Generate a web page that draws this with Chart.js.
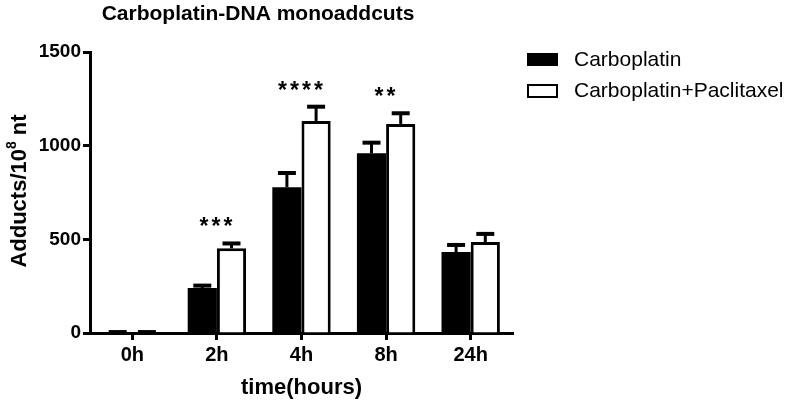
<!DOCTYPE html>
<html>
<head>
<meta charset="utf-8">
<script src="https://cdn.jsdelivr.net/npm/chart.js@4/dist/chart.umd.min.js"></script>
<style>
  html, body { margin: 0; padding: 0; background: #fff; }
</style>
</head>
<body>
<canvas id="adductChart" width="800" height="400"></canvas>
<script>
const categories = ["0h", "2h", "4h", "8h", "24h"];
const carboplatin = [3, 240, 778, 959, 432];
const carboplatinErr = [2, 13, 76, 57, 38];
const combination = [3, 452, 1132, 1116, 486];
const combinationErr = [2, 26, 76, 57, 43];
const significance = ["", "***", "****", "**", ""];
const yTicks = [0, 500, 1000, 1500];

const seriesNames = ["Carboplatin", "Carboplatin+Paclitaxel"];

// error bars, stars, titles and legend drawn on top of the bars
const extras = {
    id: "extras",
    afterDatasetsDraw(chart) {
        const ctx = chart.ctx;
        const y = chart.scales.y;
        const errs = [carboplatinErr, combinationErr];

        ctx.save();
        ctx.strokeStyle = "#000";
        ctx.lineCap = "butt";

        errs.forEach((errList, di) => {
            const meta = chart.getDatasetMeta(di);
            meta.data.forEach((bar, i) => {
                const v = chart.data.datasets[di].data[i];
                const top = y.getPixelForValue(v + errList[i]);
                ctx.lineWidth = 3;
                ctx.beginPath();
                ctx.moveTo(bar.x, bar.y);
                ctx.lineTo(bar.x, top);
                ctx.stroke();
                ctx.lineWidth = 4;
                ctx.beginPath();
                ctx.moveTo(bar.x - 9, top);
                ctx.lineTo(bar.x + 9, top);
                ctx.stroke();
            });
        });

        // significance stars
        ctx.fillStyle = "#000";
        ctx.font = "bold 23px Arial, 'Liberation Sans', sans-serif";
        ctx.textAlign = "center";
        ctx.textBaseline = "alphabetic";
        const x = chart.scales.x;
        significance.forEach((s, i) => {
            if (!s) return;
            const hi = Math.max(carboplatin[i] + carboplatinErr[i], combination[i] + combinationErr[i]);
            const cy = y.getPixelForValue(hi) - 22;
            const cx = x.getPixelForValue(i) - 1;
            for (let k = 0; k < s.length; k++) {
                const sx = cx + (k - (s.length - 1) / 2) * 12;
                ctx.fillText("*", sx, cy + 13);
            }
        });

        // chart title
        ctx.font = "bold 21px Arial, 'Liberation Sans', sans-serif";
        ctx.textBaseline = "alphabetic";
        ctx.fillText("Carboplatin-DNA monoaddcuts", 258, 20);

        // x axis title
        ctx.font = "bold 22px Arial, 'Liberation Sans', sans-serif";
        ctx.fillText("time(hours)", (chart.chartArea.left + chart.chartArea.right) / 2, 394);

        // y axis title with superscript
        ctx.save();
        ctx.translate(26, 191);
        ctx.rotate(-Math.PI / 2);
        const main = "Adducts/10";
        const tail = " nt";
        ctx.font = "bold 22px Arial, 'Liberation Sans', sans-serif";
        const wMain = ctx.measureText(main).width;
        const wTail = ctx.measureText(tail).width;
        ctx.font = "bold 14px Arial, 'Liberation Sans', sans-serif";
        const wSup = ctx.measureText("8").width;
        const total = wMain + wSup + wTail;
        let px = -total / 2;
        ctx.textAlign = "left";
        ctx.font = "bold 22px Arial, 'Liberation Sans', sans-serif";
        ctx.fillText(main, px, 0);
        px += wMain;
        ctx.font = "bold 14px Arial, 'Liberation Sans', sans-serif";
        ctx.fillText("8", px, -10);
        px += wSup;
        ctx.font = "bold 22px Arial, 'Liberation Sans', sans-serif";
        ctx.fillText(tail, px, 0);
        ctx.restore();

        // legend
        ctx.fillStyle = "#000";
        ctx.fillRect(527, 53, 31, 13);
        ctx.lineWidth = 2;
        ctx.strokeRect(528, 85, 29, 12);
        ctx.font = "21px Arial, 'Liberation Sans', sans-serif";
        ctx.textAlign = "left";
        ctx.textBaseline = "middle";
        ctx.fillText(seriesNames[0], 574, 60);
        ctx.fillText(seriesNames[1], 574, 91);

        ctx.restore();
    }
};

new Chart(document.getElementById("adductChart").getContext("2d"), {
    type: "bar",
    data: {
        labels: categories,
        datasets: [
            {
                label: seriesNames[0],
                data: carboplatin,
                backgroundColor: "#000",
                borderColor: "#000",
                borderWidth: 0,
                barPercentage: 1,
                categoryPercentage: 0.69
            },
            {
                label: seriesNames[1],
                data: combination,
                backgroundColor: "#fff",
                borderColor: "#000",
                borderWidth: 3,
                barPercentage: 1,
                categoryPercentage: 0.69
            }
        ]
    },
    options: {
        responsive: false,
        animation: false,
        layout: {
            padding: { left: 0, right: 287, top: 52, bottom: 0 }
        },
        plugins: {
            legend: { display: false },
            tooltip: { enabled: false }
        },
        scales: {
            x: {
                afterFit(scale) { scale.height = 67; },
                grid: {
                    offset: false,
                    drawOnChartArea: false,
                    tickLength: 7,
                    tickWidth: 3,
                    tickColor: "#000"
                },
                border: { color: "#000", width: 3 },
                ticks: {
                    color: "#000",
                    padding: 3,
                    maxRotation: 0,
                    font: { family: "Arial, 'Liberation Sans', sans-serif", size: 20, weight: "bold" }
                }
            },
            y: {
                min: 0,
                max: 1500,
                afterFit(scale) { scale.width = 90; },
                afterBuildTicks(scale) {
                    scale.ticks = yTicks.map(v => ({ value: v }));
                },
                grid: {
                    drawOnChartArea: false,
                    tickLength: 7,
                    tickWidth: 3,
                    tickColor: "#000"
                },
                border: { color: "#000", width: 3 },
                ticks: {
                    color: "#000",
                    padding: 2,
                    callback: v => String(v),
                    font: { family: "Arial, 'Liberation Sans', sans-serif", size: 19, weight: "bold" }
                }
            }
        }
    },
    plugins: [extras]
});
</script>
</body>
</html>
